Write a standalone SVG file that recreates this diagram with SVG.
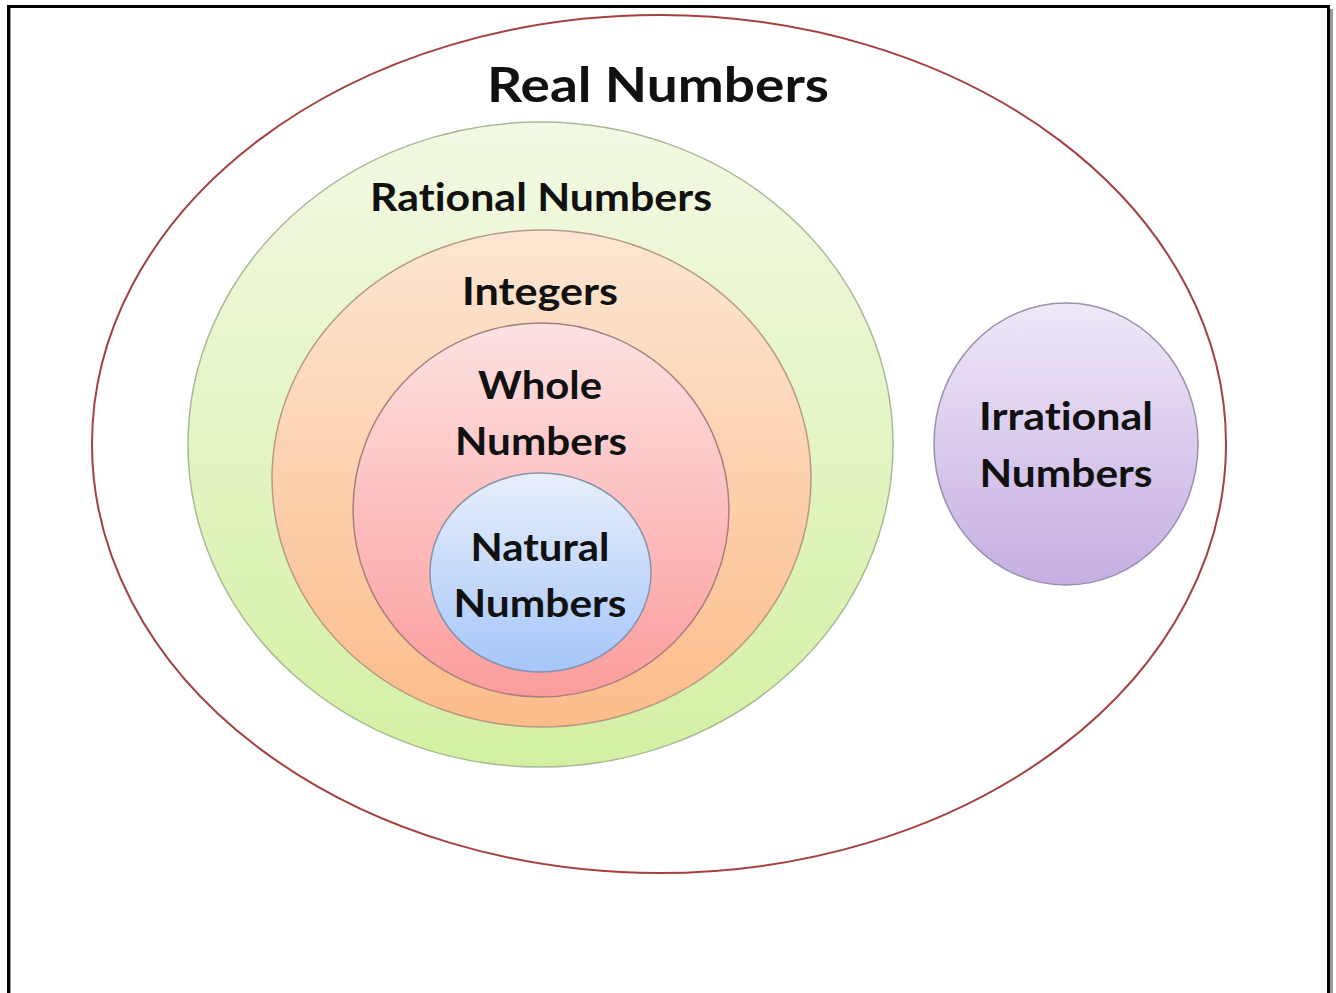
<svg xmlns="http://www.w3.org/2000/svg" width="1336" height="993" viewBox="0 0 1336 993">
<style>
text{font-family:Lato,"Open Sans","Liberation Sans",sans-serif;font-weight:bold;fill:#111;text-anchor:middle;font-variant-ligatures:none;font-feature-settings:"liga" 0}
.t{font-size:39px}
</style>
<defs>
<linearGradient id="gG" x1="0" y1="0" x2="0" y2="1"><stop offset="0" stop-color="#f3f9e4"/><stop offset="1" stop-color="#d3f0a2"/></linearGradient>
<linearGradient id="gO" x1="0" y1="0" x2="0" y2="1"><stop offset="0" stop-color="#fde6d2"/><stop offset="1" stop-color="#fcbc8a"/></linearGradient>
<linearGradient id="gP" x1="0" y1="0" x2="0" y2="1"><stop offset="0" stop-color="#fde2e2"/><stop offset="1" stop-color="#fc9c9c"/></linearGradient>
<linearGradient id="gB" x1="0" y1="0" x2="0" y2="1"><stop offset="0" stop-color="#e8effb"/><stop offset="1" stop-color="#a6c6fa"/></linearGradient>
<linearGradient id="gV" x1="0" y1="0" x2="0" y2="1"><stop offset="0" stop-color="#efe8f8"/><stop offset="1" stop-color="#c6aee2"/></linearGradient>
</defs>
<rect width="1336" height="993" fill="#fff"/>
<g id="frame">
<line x1="7" y1="6.5" x2="1330" y2="6.5" stroke="#000" stroke-width="3"/>
<line x1="8.5" y1="5" x2="8.5" y2="993" stroke="#000" stroke-width="3"/>
<line x1="10.5" y1="8" x2="10.5" y2="993" stroke="#999" stroke-width="1"/>
<line x1="1328.5" y1="5" x2="1328.5" y2="993" stroke="#000" stroke-width="3"/>
<line x1="1331.5" y1="9" x2="1331.5" y2="993" stroke="#999" stroke-width="3"/>
</g>
<g id="real">
<ellipse cx="659" cy="444" rx="567" ry="429" fill="#fff" stroke="#a4403f" stroke-width="2"/>
<text x="658" y="102" style="font-size:47px" textLength="342" lengthAdjust="spacingAndGlyphs">Real Numbers</text>
</g>
<g id="rational">
<ellipse cx="540.5" cy="444.5" rx="352.5" ry="322.5" fill="url(#gG)" stroke="#a9b995" stroke-width="1.5"/>
<text class="t" x="541" y="211" textLength="342" lengthAdjust="spacingAndGlyphs">Rational Numbers</text>
</g>
<g id="integers">
<ellipse cx="541.5" cy="478.5" rx="269.5" ry="248.5" fill="url(#gO)" stroke="#b79a84" stroke-width="1.5"/>
<text class="t" x="540" y="305" textLength="156" lengthAdjust="spacingAndGlyphs">Integers</text>
</g>
<g id="whole">
<ellipse cx="541" cy="510" rx="188" ry="187" fill="url(#gP)" stroke="#a67f7f" stroke-width="1.5"/>
<text class="t" x="540" y="399" textLength="124" lengthAdjust="spacingAndGlyphs">Whole</text>
<text class="t" x="541" y="455" textLength="172" lengthAdjust="spacingAndGlyphs">Numbers</text>
</g>
<g id="natural">
<ellipse cx="540.5" cy="572.5" rx="110.5" ry="99.5" fill="url(#gB)" stroke="#8793ad" stroke-width="1.5"/>
<text class="t" x="540" y="561" textLength="139" lengthAdjust="spacingAndGlyphs">Natural</text>
<text class="t" x="540" y="617" textLength="173" lengthAdjust="spacingAndGlyphs">Numbers</text>
</g>
<g id="irrational">
<ellipse cx="1066" cy="444" rx="132" ry="141" fill="url(#gV)" stroke="#9a8fae" stroke-width="1.5"/>
<text class="t" x="1066" y="430" textLength="174" lengthAdjust="spacingAndGlyphs">Irrational</text>
<text class="t" x="1066" y="487" textLength="173" lengthAdjust="spacingAndGlyphs">Numbers</text>
</g>
<g id="connectors"/>
</svg>
